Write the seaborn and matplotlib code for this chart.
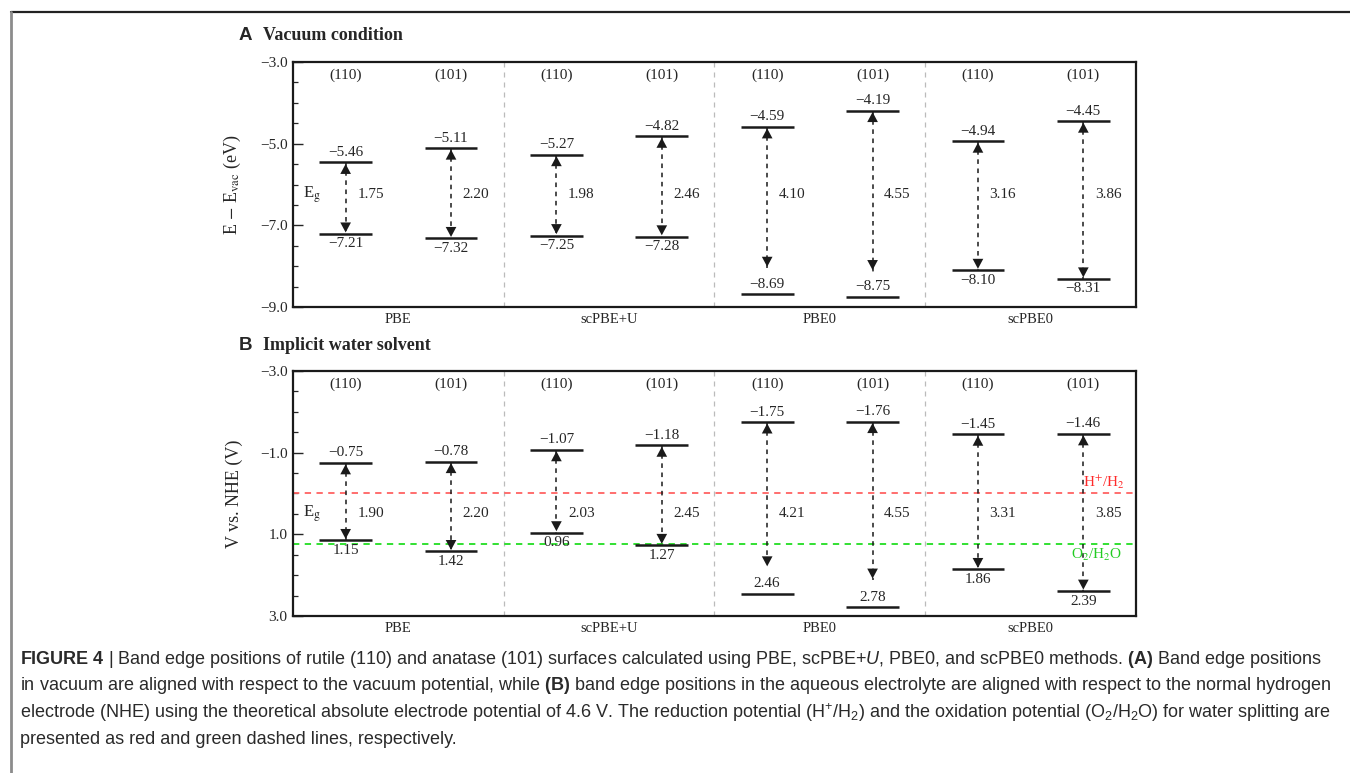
import matplotlib
matplotlib.use("Agg")
import matplotlib.pyplot as plt
from matplotlib.lines import Line2D
import seaborn as sns

# ---- data ---------------------------------------------------------------
methods = ["PBE", "scPBE+U", "PBE0", "scPBE0"]
facets = ["(110)", "(101)"] * 4

vac_cbm = [-5.46, -5.11, -5.27, -4.82, -4.59, -4.19, -4.94, -4.45]
vac_vbm = [-7.21, -7.32, -7.25, -7.28, -8.69, -8.75, -8.10, -8.31]
vac_gap = [1.75, 2.20, 1.98, 2.46, 4.10, 4.55, 3.16, 3.86]
vac_tip = [-7.21, -7.32, -7.25, -7.28, -8.05, -8.13, -8.10, -8.31]
vac_vbm_label_above = [False, False, False, False, True, True, False, False]

sol_cbm = [-0.75, -0.78, -1.07, -1.18, -1.75, -1.76, -1.45, -1.46]
sol_vbm = [1.15, 1.42, 0.96, 1.27, 2.46, 2.78, 1.86, 2.39]
sol_gap = [1.90, 2.20, 2.03, 2.45, 4.21, 4.55, 3.31, 3.85]
sol_tip = [1.15, 1.42, 0.96, 1.27, 1.82, 2.12, 1.86, 2.39]
sol_vbm_label_above = [False, False, False, False, True, True, False, False]

h_h2 = 0.0
o2_h2o = 1.23

caption = [
    r"$\mathbf{FIGURE\ 4}$ | Band edge positions of rutile (110) and anatase (101) surfaces calculated using PBE, "
    r"scPBE+$U$, PBE0, and scPBE0 methods. $\mathbf{(A)}$ Band edge positions",
    r"in vacuum are aligned with respect to the vacuum potential, while $\mathbf{(B)}$ band edge positions in the "
    r"aqueous electrolyte are aligned with respect to the normal hydrogen",
    r"electrode (NHE) using the theoretical absolute electrode potential of 4.6 V. The reduction potential "
    r"(H$^{+}$/H$_{2}$) and the oxidation potential (O$_{2}$/H$_{2}$O) for water splitting are",
    "presented as red and green dashed lines, respectively.",
]

# ---- style ----------------------------------------------------------------
sns.set_theme(style="ticks")
plt.rcParams["font.family"] = ["Liberation Serif", "DejaVu Serif"]
plt.rcParams["mathtext.fontset"] = "stix"
plt.rcParams["mathtext.rm"] = "Liberation Sans"
plt.rcParams["mathtext.it"] = "Liberation Sans:italic"
plt.rcParams["mathtext.bf"] = "Liberation Sans:bold"

SERIF = ["Liberation Serif", "DejaVu Serif"]
SANS = ["Liberation Sans", "DejaVu Sans"]
MINUS = "\u2212"


def fmt(v, nd=2):
    s = f"{abs(v):.{nd}f}"
    return MINUS + s if v < 0 else s


def draw_panel(ax, cbm, vbm, gap, tip, vbm_above, ylim, ticks, ylabel, gap_y):
    n = len(cbm)
    xs = [i + 0.5 for i in range(n)]

    # method dividers
    for xd in (2, 4, 6):
        ax.axvline(xd, color="#bbbbbb", lw=0.9, ls=(0, (4, 4)), zorder=1)

    for i, x in enumerate(xs):
        ax.hlines([cbm[i], vbm[i]], x - 0.25, x + 0.25, color="k", lw=1.8, zorder=3)
        # dashed shaft
        ax.plot([x, x], [cbm[i], tip[i]], color="k", lw=1.1, ls=(0, (3, 3)), zorder=3)
        # heads
        for end, other in ((cbm[i], tip[i]), (tip[i], cbm[i])):
            d = 0.3 if other > end else -0.3
            ax.annotate("", xy=(x, end), xytext=(x, end + d),
                        arrowprops=dict(arrowstyle="-|>,head_length=0.6,head_width=0.32",
                                        mutation_scale=12, fc="k", ec="none",
                                        shrinkA=0, shrinkB=0), zorder=4)
        ax.annotate(fmt(cbm[i]), (x, cbm[i]), xytext=(0, 2.5), textcoords="offset points",
                    ha="center", va="bottom", fontsize=11, family=SERIF)
        if vbm_above[i]:
            ax.annotate(fmt(vbm[i]), (x, vbm[i]), xytext=(0, 2.5), textcoords="offset points",
                        ha="center", va="bottom", fontsize=11, family=SERIF)
        else:
            ax.annotate(fmt(vbm[i]), (x, vbm[i]), xytext=(0, -2.5), textcoords="offset points",
                        ha="center", va="top", fontsize=11, family=SERIF)
        ax.text(x + 0.11, gap_y, f"{gap[i]:.2f}", ha="left", va="center", fontsize=11, family=SERIF)
        ax.text(x, 0.947, facets[i], transform=ax.get_xaxis_transform(),
                ha="center", va="center", fontsize=11, family=SERIF)

    ax.text(0.1, gap_y, r"E$_{\rm g}$", ha="left", va="center", fontsize=12, family=SERIF)

    lo = min(ylim)
    ax.set_yticks(ticks)
    ax.set_yticklabels([fmt(t, 1) for t in ticks])
    ax.set_yticks([lo + 0.5 * k for k in range(13)], minor=True)
    ax.set_xlim(0, n)
    ax.set_ylim(*ylim)
    ax.tick_params(axis="y", which="major", direction="in", length=7, width=1.0,
                   labelsize=11, pad=4, right=False)
    ax.tick_params(axis="y", which="minor", direction="in", length=3.5, width=0.9, right=False)
    ax.set_xticks([1, 3, 5, 7])
    ax.set_xticklabels(methods, fontsize=10.5)
    ax.tick_params(axis="x", length=0, pad=4)
    for sp in ax.spines.values():
        sp.set_linewidth(1.6)
        sp.set_color("k")
    ax.set_ylabel(ylabel, fontsize=13, family=SERIF)
    ax.yaxis.set_label_coords(-0.059, 0.5)


fig = plt.figure(figsize=(13.5, 7.73), dpi=100)
axA = fig.add_axes([0.217, 0.6028, 0.6245, 0.317])
axB = fig.add_axes([0.217, 0.2031, 0.6245, 0.317])

draw_panel(axA, vac_cbm, vac_vbm, vac_gap, vac_tip, vac_vbm_label_above,
           (-9, -3), [-9, -7, -5, -3], r"E $-$ E$_{\rm vac}$ (eV)", -6.25)
draw_panel(axB, sol_cbm, sol_vbm, sol_gap, sol_tip, sol_vbm_label_above,
           (3, -3), [-3, -1, 1, 3], "V vs. NHE (V)", 0.5)

# water redox levels
axB.axhline(h_h2, color="#ff6262", lw=1.3, ls=(0, (3.5, 3)), zorder=2)
axB.axhline(o2_h2o, color="#22dd22", lw=1.3, ls=(0, (3.5, 3)), zorder=2)
axB.text(7.5, h_h2 - 0.05, r"H$^{+}$/H$_{2}$", color="#ff2a2a", ha="left", va="bottom",
         fontsize=11, family=SERIF)
axB.text(7.63, o2_h2o + 0.08, r"O$_{2}$/H$_{2}$O", color="#22cc22", ha="center", va="top",
         fontsize=11, family=SERIF)

# panel titles
for y, letter, title in ((1 - 36 / 773, "A", "Vacuum condition"),
                         (1 - 346 / 773, "B", "Implicit water solvent")):
    fig.text(245 / 1350, y, letter, ha="center", va="center", fontsize=13.5,
             fontweight="bold", family=SANS)
    fig.text(263 / 1350, y, title, ha="left", va="center", fontsize=13,
             fontweight="bold", family=SERIF)

# caption
for k, line in enumerate(caption):
    fig.text(20 / 1350, 1 - (659 + 27 * k) / 773, line, ha="left", va="center",
             fontsize=13, family=SANS, color="#2a2a2a", math_fontfamily="custom")

# page rules
fig.add_artist(Line2D([11 / 1350, 1], [1 - 12 / 773] * 2, color="#222222", lw=1.6,
                      transform=fig.transFigure))
fig.add_artist(Line2D([11 / 1350] * 2, [0, 1 - 12 / 773], color="#8c8c8c", lw=2,
                      transform=fig.transFigure))

fig.savefig("out.png", dpi=100)
